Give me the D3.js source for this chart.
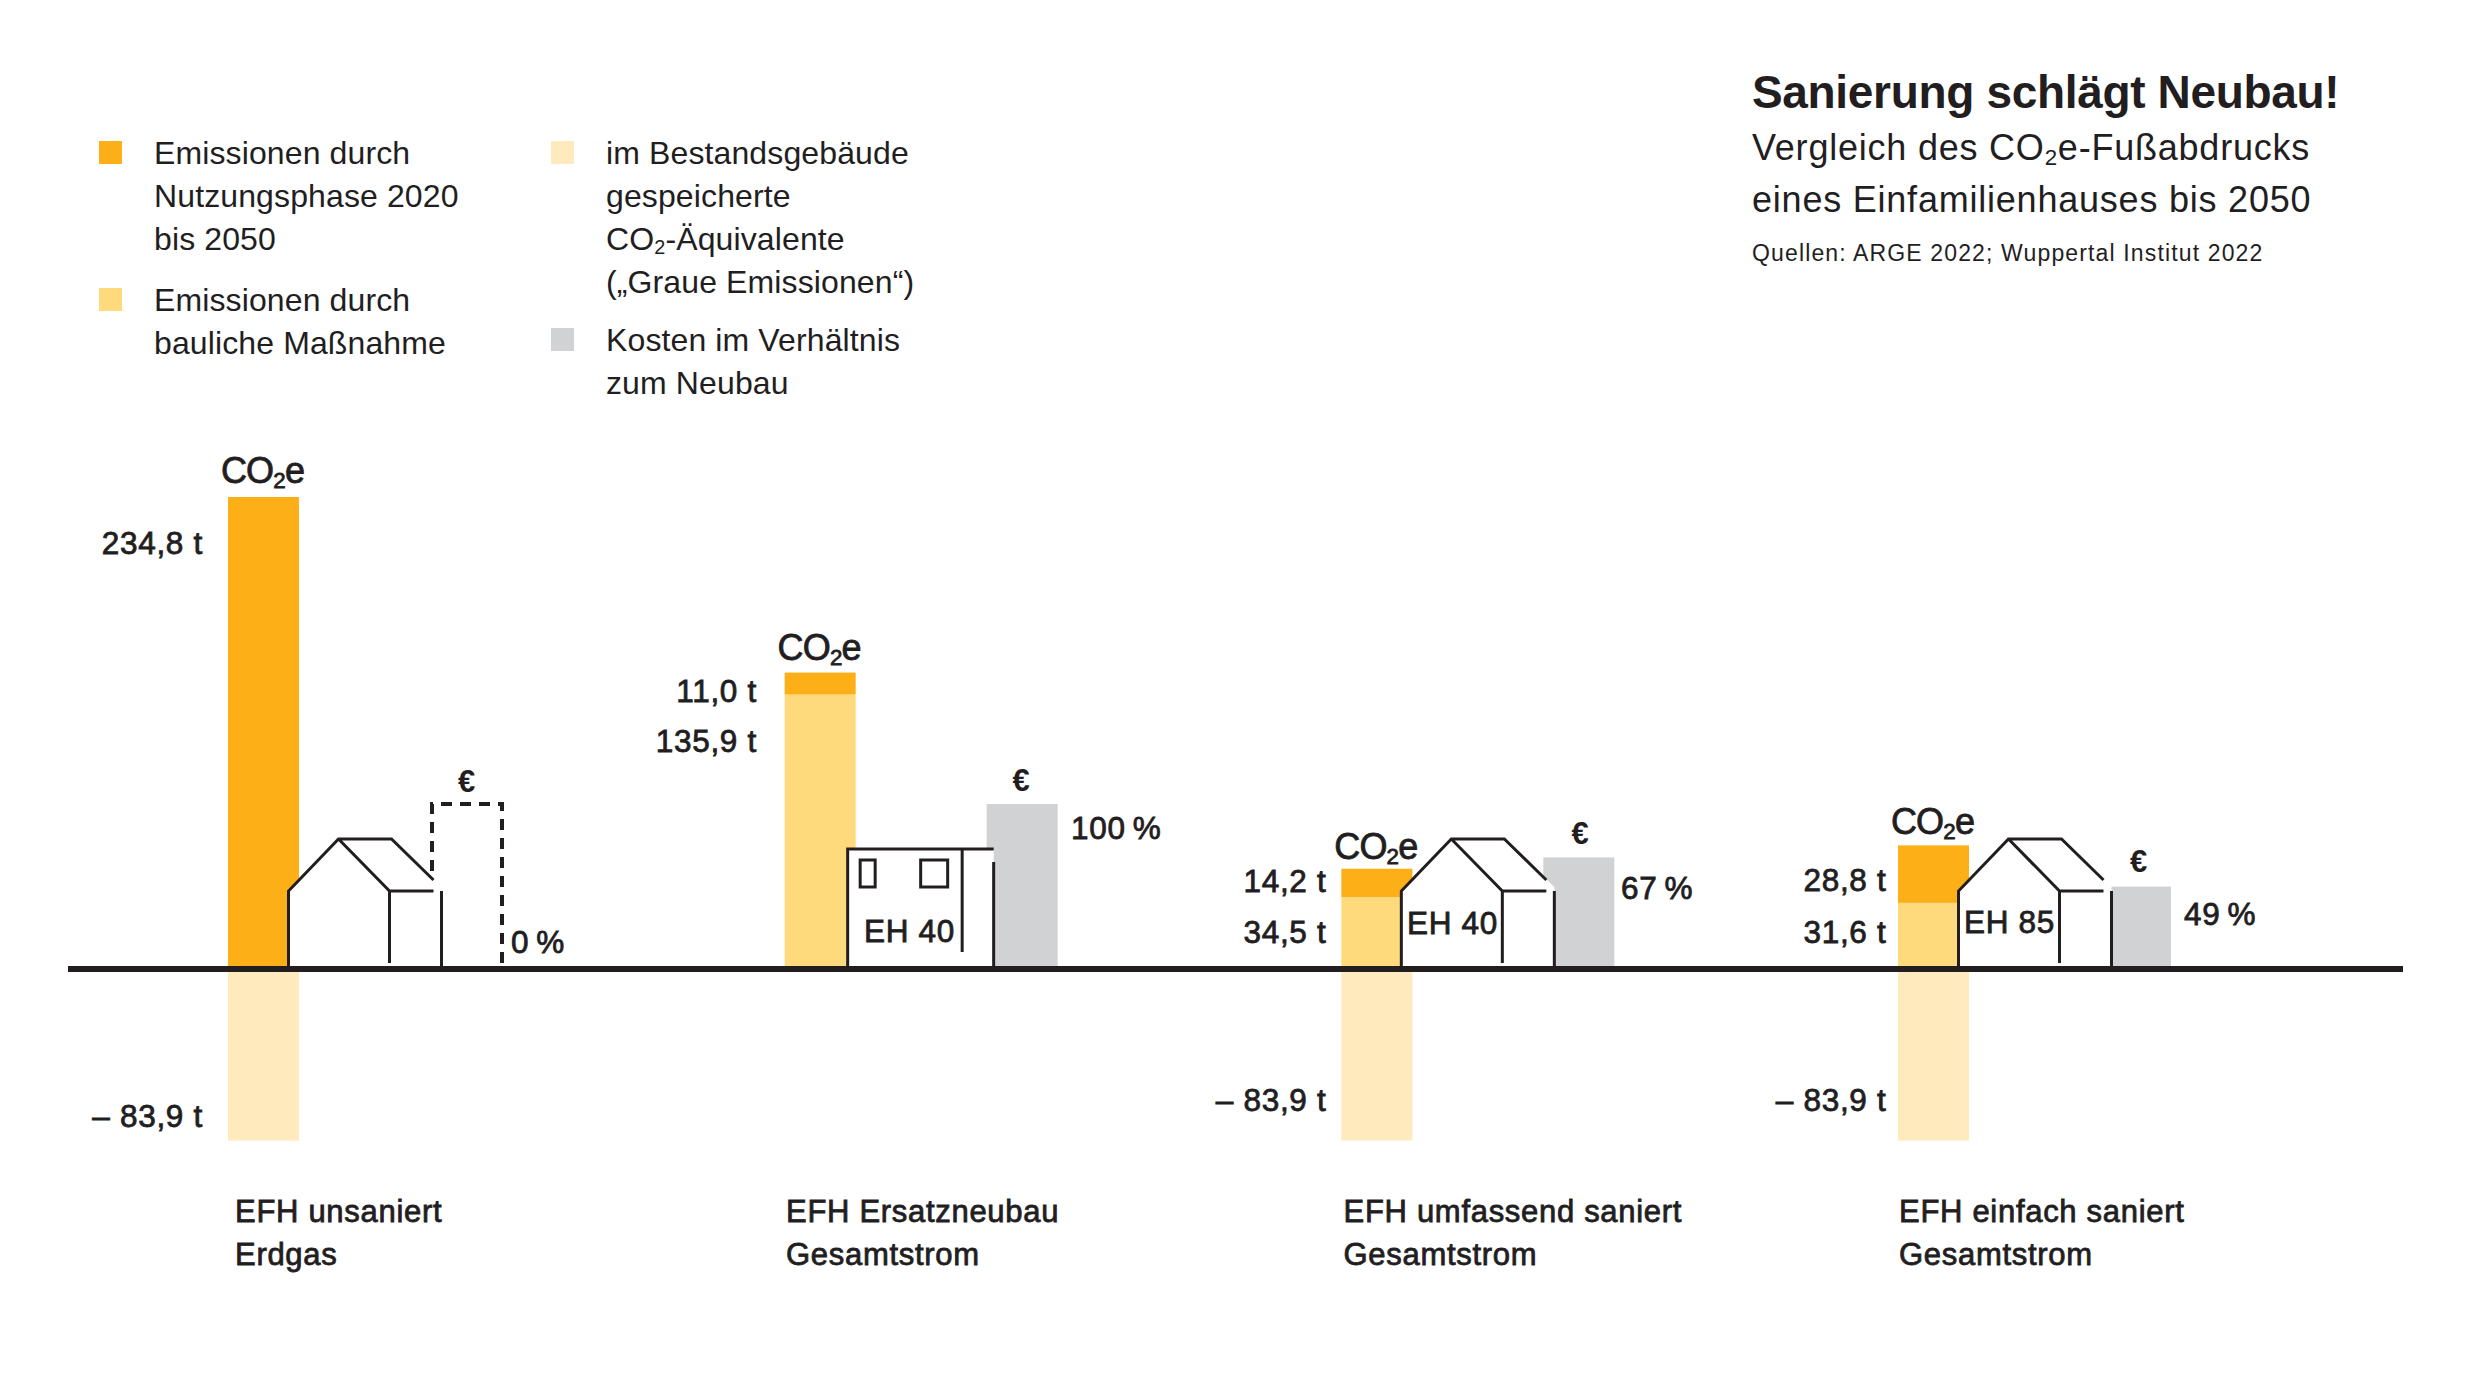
<!DOCTYPE html>
<html lang="de">
<head>
<meta charset="utf-8">
<title>Sanierung schlägt Neubau!</title>
<script src="https://cdn.jsdelivr.net/npm/d3@7/dist/d3.min.js"></script>
<style>
	body { margin: 0; background: #fff; }
	text { font-family: "Liberation Sans", Arial, sans-serif; fill: #221e1f; }
	.medium { stroke: #221e1f; stroke-width: 0.8px; letter-spacing: 0.7px; }
	.co2 { stroke: #221e1f; stroke-width: 0.8px; letter-spacing: -0.8px; }
	.title { letter-spacing: -0.33px; }
	.sub { letter-spacing: 0.78px; }
	.source { letter-spacing: 1.14px; }
	.legend { letter-spacing: 0.12px; }
</style>
</head>
<body>
<div id="main"></div>
<script>
// values in t CO2e
let categories = ["EFH unsaniert", "EFH Ersatzneubau", "EFH umfassend saniert", "EFH einfach saniert"];
let energy = ["Erdgas", "Gesamtstrom", "Gesamtstrom", "Gesamtstrom"];
let standards = ["", "EH 40", "EH 40", "EH 85"];
let construction = [0, 135.9, 34.5, 31.6];
let operation = [234.8, 11.0, 14.2, 28.8];
let embodied = [-83.9, 0, -83.9, -83.9];
let costs = [0, 100, 67, 49];

let colors = { operation: "#fdaf17", construction: "#ffda7d", embodied: "#feeabd", cost: "#d0d2d3", ink: "#221e1f" };

let legendItems = [
	{ color: colors.operation, x: 99, y: 141, lines: ["Emissionen durch", "Nutzungsphase 2020", "bis 2050"] },
	{ color: colors.construction, x: 99, y: 288, lines: ["Emissionen durch", "bauliche Maßnahme"] },
	{ color: colors.embodied, x: 551, y: 141, lines: ["im Bestandsgebäude", "gespeicherte", "CO₂-Äquivalente", "(„Graue Emissionen“)"] },
	{ color: colors.cost, x: 551, y: 328, lines: ["Kosten im Verhältnis", "zum Neubau"] }
];

let svg = d3.select("#main").append("svg").attr("width", 2480).attr("height", 1398).style("display", "block");

let x = d3.scalePoint().domain(categories).range([228, 1898]);
let y = d3.scaleLinear().domain([0, 234.8]).range([966, 497]);
let yCost = d3.scaleLinear().domain([0, 100]).range([966, 804]);
let barWidth = 71;
let costOffset = 202;
let axisWidth = 6;

function add_text(parent, px, py, str, size, anchor, cls) {
	let t = parent.append("text").attr("x", px).attr("y", py)
		.attr("font-size", size).attr("text-anchor", anchor || "start");
	if (cls) t.attr("class", cls);
	str.split("₂").forEach(function (part, i) {
		if (i > 0) {
			t.append("tspan").attr("dy", size * 0.14).attr("font-size", size * 0.62).text("2");
			t.append("tspan").attr("dy", -size * 0.14).text(part);
		} else {
			t.append("tspan").text(part);
		}
	});
	return t;
}

function tons(v) {
	let s = Math.abs(v).toFixed(1).replace(".", ",") + " t";
	return v < 0 ? "– " + s : s;
}

// title block
add_text(svg, 1752, 108, "Sanierung schlägt Neubau!", 46, "start", "title").attr("font-weight", "bold");
add_text(svg, 1752, 160, "Vergleich des CO₂e-Fußabdrucks", 36, "start", "sub");
add_text(svg, 1752, 212, "eines Einfamilienhauses bis 2050", 36, "start", "sub");
add_text(svg, 1752, 261, "Quellen: ARGE 2022; Wuppertal Institut 2022", 23, "start", "source");

// legend
legendItems.forEach(function (item) {
	svg.append("rect").attr("x", item.x).attr("y", item.y).attr("width", 23).attr("height", 23).attr("fill", item.color);
	item.lines.forEach(function (line, i) {
		add_text(svg, item.x + 55, item.y + 22.5 + i * 43, line, 32, "start", "legend");
	});
});

// cost bars, 0 % only gets the dashed outline of the new build
let costG = svg.append("g");
costG.selectAll("rect").data(categories.filter(function (d, i) { return costs[i] > 0; })).enter()
	.append("rect")
	.attr("x", function (d) { return x(d) + costOffset; })
	.attr("width", barWidth)
	.attr("y", function (d) { return yCost(costs[categories.indexOf(d)]); })
	.attr("height", function (d) { return y(0) - yCost(costs[categories.indexOf(d)]); })
	.attr("fill", colors.cost);

categories.filter(function (d, i) { return costs[i] === 0; }).forEach(function (d) {
	let left = x(d) + costOffset + 2;
	let right = left + barWidth - 1;
	costG.append("path")
		.attr("d", d3.line()([[left, y(0)], [left, yCost(100)], [right, yCost(100)], [right, y(0)]]))
		.attr("fill", "none").attr("stroke", colors.ink).attr("stroke-width", 4).attr("stroke-dasharray", "11,8");
});

// stacked emission bars above the line
let rows = categories.map(function (d, i) {
	return { category: d, construction: construction[i], operation: operation[i] };
});
let stacked = d3.stack().keys(["construction", "operation"])(rows);
svg.append("g").selectAll("g").data(stacked).enter().append("g")
	.attr("fill", function (s) { return colors[s.key]; })
	.selectAll("rect").data(function (s) { return s; }).enter()
	.append("rect")
	.attr("x", function (d) { return x(d.data.category); })
	.attr("width", barWidth)
	.attr("y", function (d) { return y(d[1]); })
	.attr("height", function (d) { return y(d[0]) - y(d[1]); });

// stored emissions below the line, the bar starts under the line
svg.append("g").selectAll("rect").data(categories).enter()
	.append("rect")
	.attr("x", function (d) { return x(d); })
	.attr("width", barWidth)
	.attr("y", y(0))
	.attr("height", function (d, i) { return embodied[i] < 0 ? y(embodied[i]) - y(0) + axisWidth + 1 : 0; })
	.attr("fill", colors.embodied);

// house icons
function draw_house(px) {
	let g = svg.append("g").attr("transform", "translate(" + px + "," + y(0) + ")");
	g.append("path").attr("d", "M0,0V-75L50,-127H103L153,-79V0Z").attr("fill", "#fff");
	g.append("path")
		.attr("d", "M0,1V-75L50,-127H103L145,-86M50,-127L101,-75H145M101,-75V-3M153,-75V1")
		.attr("fill", "none").attr("stroke", colors.ink).attr("stroke-width", 3);
}

function draw_box(px) {
	let g = svg.append("g").attr("transform", "translate(" + px + "," + y(0) + ")");
	g.append("path").attr("d", "M0,0V-117H146V0Z").attr("fill", "#fff");
	g.append("path")
		.attr("d", "M0,1V-117H146M114.5,-117V-14M146,-104V1")
		.attr("fill", "none").attr("stroke", colors.ink).attr("stroke-width", 3);
	g.append("rect").attr("x", 12.5).attr("y", -106).attr("width", 15).attr("height", 27)
		.attr("fill", "none").attr("stroke", colors.ink).attr("stroke-width", 3);
	g.append("rect").attr("x", 73).attr("y", -106).attr("width", 27).attr("height", 27)
		.attr("fill", "none").attr("stroke", colors.ink).attr("stroke-width", 3);
}

draw_house(x(categories[0]) + 60.5);
draw_box(x(categories[1]) + 63);
draw_house(x(categories[2]) + 60);
draw_house(x(categories[3]) + 60.5);

// zero line
svg.append("line").attr("x1", 68).attr("x2", 2403).attr("y1", y(0) + axisWidth / 2).attr("y2", y(0) + axisWidth / 2)
	.attr("stroke", colors.ink).attr("stroke-width", axisWidth);

// hand placed labels, same as in the print layout
let labelRight = [203, 757, 1326.5, 1886.5];
let co2LabelY = [483, 660, 859, 834];
let operationLabelY = [553.5, 701.5, 891.5, 891];
let constructionLabelY = [0, 752, 942.5, 942.5];
let embodiedLabelY = [1127, 0, 1111, 1111];
let euroX = [466.5, 1021, 1580, 2138.5];
let euroY = [792, 791, 844, 872];
let percentX = [511, 1071, 1621, 2184];
let percentY = [952.5, 839, 899, 925];
let standardX = [0, 864, 1407, 1964];
let standardY = [0, 942, 934, 932.5];
let categoryX = [235, 786, 1343.5, 1899];

categories.forEach(function (d, i) {
	add_text(svg, x(d) + barWidth / 2 - 1, co2LabelY[i], "CO₂e", 36, "middle", "co2");
	add_text(svg, labelRight[i], operationLabelY[i], tons(operation[i]), 31.5, "end", "medium");
	if (construction[i] > 0) add_text(svg, labelRight[i], constructionLabelY[i], tons(construction[i]), 31.5, "end", "medium");
	if (embodied[i] < 0) add_text(svg, labelRight[i], embodiedLabelY[i], tons(embodied[i]), 31.5, "end", "medium");
	add_text(svg, euroX[i], euroY[i], "€", 31, "middle").attr("font-weight", "bold");
	add_text(svg, percentX[i], percentY[i], costs[i] + "\u2009%", 31.5, "start", "medium");
	if (standards[i]) add_text(svg, standardX[i], standardY[i], standards[i], 31.5, "start", "medium");
	add_text(svg, categoryX[i], 1222, d, 31, "start", "medium");
	add_text(svg, categoryX[i], 1265, energy[i], 31, "start", "medium");
});
</script>
</body>
</html>
